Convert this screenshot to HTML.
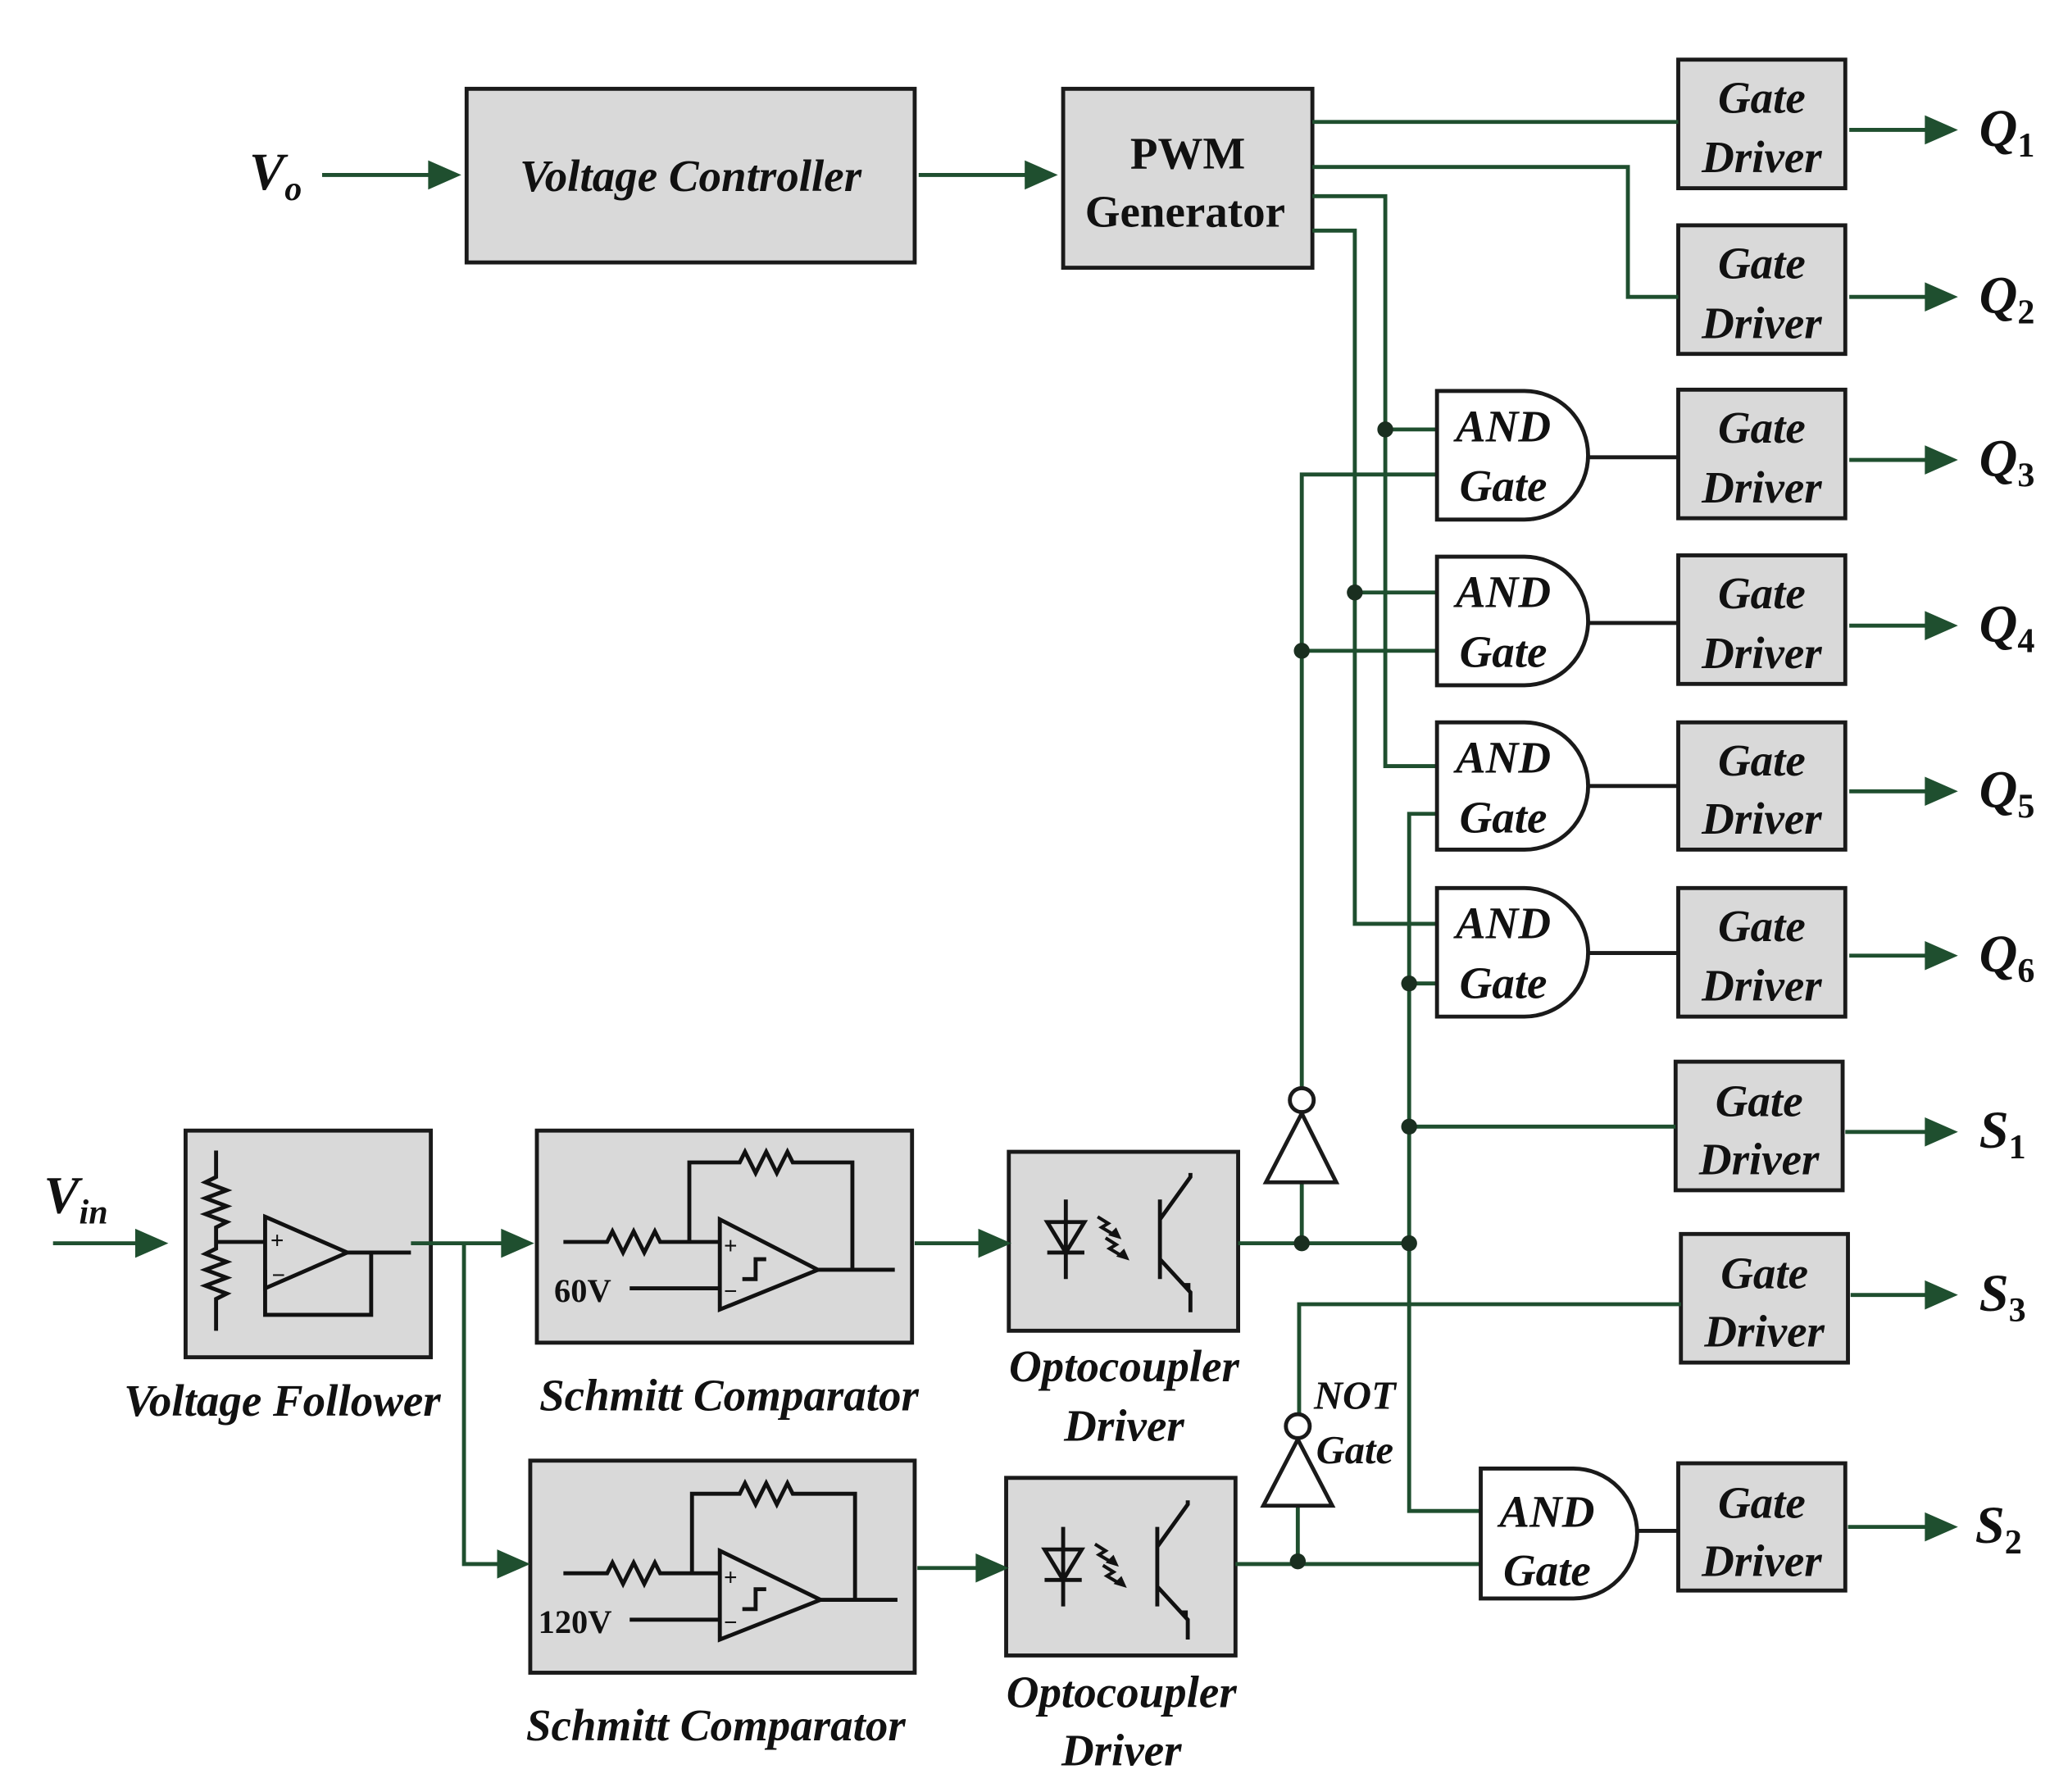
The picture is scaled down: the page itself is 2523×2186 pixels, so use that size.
<!DOCTYPE html>
<html><head><meta charset="utf-8"><style>
html,body{margin:0;padding:0;background:#fff}
svg{display:block}
text{font-family:"Liberation Serif",serif;font-weight:bold;font-style:italic;fill:#111}
text.up{font-style:normal}
</style></head><body>
<svg width="2523" height="2186" viewBox="0 0 1560 1352" preserveAspectRatio="none" xmlns="http://www.w3.org/2000/svg">
<g fill="#d9d9d9" stroke="#1a1a1a" stroke-width="3">
<rect x="352" y="67" width="338" height="131"/>
<rect x="802" y="67" width="188" height="135"/>
<rect x="1266" y="45" width="126" height="97"/>
<rect x="1266" y="170" width="126" height="97"/>
<rect x="1266" y="294" width="126" height="97"/>
<rect x="1266" y="419" width="126" height="97"/>
<rect x="1266" y="545" width="126" height="96"/>
<rect x="1266" y="670" width="126" height="97"/>
<rect x="1264" y="801" width="126" height="97"/>
<rect x="1268" y="931" width="126" height="97"/>
<rect x="1266" y="1104" width="126" height="96"/>
<rect x="140" y="853" width="185" height="171"/>
<rect x="405" y="853" width="283" height="160"/>
<rect x="400" y="1102" width="290" height="160"/>
<rect x="761" y="869" width="173" height="135"/>
<rect x="759" y="1115" width="173" height="134"/>
</g>
<g fill="none" stroke="#1f4f2f" stroke-width="3">
<path d="M243 132H335M693 132H785"/>
<path d="M990 92H1266M990 126H1228V224H1266M990 148H1045V578H1084M990 174H1022V697H1084"/>
<path d="M1045 324H1084M982 830V358H1084M1022 447H1084M982 491H1084"/>
<path d="M1084 614H1063V1140H1117M1063 742H1084M1063 850H1264"/>
<path d="M934 938H1063M982 938V892"/>
<path d="M1268 984H980V1066M979 1136V1180M932 1180H1120"/>
<path d="M40 938H115M310 938H390M350 938V1180H388M690 938H750M692 1183H748"/>
<path d="M1395 98H1465M1395 224H1465M1395 347H1465M1395 472H1465M1395 597H1465M1395 721H1465M1392 854H1465M1396 977H1465M1394 1152H1465"/>
</g>
<g fill="#1f4f2f">
<polygon points="348,132 323,121 323,143"/>
<polygon points="798,132 773,121 773,143"/>
<polygon points="127,938 102,927 102,949"/>
<polygon points="403,938 378,927 378,949"/>
<polygon points="400,1180 375,1169 375,1191"/>
<polygon points="763,938 738,927 738,949"/>
<polygon points="761,1183 736,1172 736,1194"/>
<polygon points="1477,98 1452,87 1452,109"/>
<polygon points="1477,224 1452,213 1452,235"/>
<polygon points="1477,347 1452,336 1452,358"/>
<polygon points="1477,472 1452,461 1452,483"/>
<polygon points="1477,597 1452,586 1452,608"/>
<polygon points="1477,721 1452,710 1452,732"/>
<polygon points="1477,854 1452,843 1452,865"/>
<polygon points="1477,977 1452,966 1452,988"/>
<polygon points="1477,1152 1452,1141 1452,1163"/>
</g>
<g fill="#1a2f20">
<circle cx="1045" cy="324" r="6"/><circle cx="1022" cy="447" r="6"/><circle cx="982" cy="491" r="6"/>
<circle cx="1063" cy="742" r="6"/><circle cx="1063" cy="850" r="6"/><circle cx="982" cy="938" r="6"/>
<circle cx="1063" cy="938" r="6"/><circle cx="979" cy="1178" r="6"/>
</g>
<g fill="#fff" stroke="#1a1a1a" stroke-width="3">
<path d="M1084 295H1150A48 48.5 0 0 1 1150 392H1084Z"/>
<path d="M1084 420H1150A48 48.5 0 0 1 1150 517H1084Z"/>
<path d="M1084 545H1150A48 48 0 0 1 1150 641H1084Z"/>
<path d="M1084 670H1150A48 48.5 0 0 1 1150 767H1084Z"/>
<path d="M1117 1108H1187A48 49 0 0 1 1187 1206H1117Z"/>
<path d="M1198 345H1266M1198 470H1266M1198 593H1266M1198 719H1266M1235 1155H1266"/>
<path d="M955 892H1008L982 840Z"/><circle cx="982" cy="830" r="9"/>
<path d="M953 1136H1005L979 1086Z"/><circle cx="979" cy="1076" r="9"/>
</g>
<g fill="none" stroke="#111" stroke-width="3">
<path d="M163 868V888l-8 4 16 6-16 6 16 6-16 6 16 6-8 4V937h38M163 937V942l-8 4 16 6-16 6 16 6-16 6 16 6-8 4V1004"/>
<path d="M200 918L262 945L200 972Z"/>
<path d="M262 945H310M280 945V992H200V958"/>
<path d="M425 937H458l4-8 8 16 8-16 8 16 8-16 4 8H543M520 937V877H558l4-8 8 16 8-16 8 16 8-16 4 8H643V958"/>
<path d="M543 920L617 958L543 988Z"/><path d="M617 958H675M475 972H543"/>
<path d="M560 965H570V950H578"/>
<path d="M425 1187H458l4-8 8 16 8-16 8 16 8-16 4 8H543M522 1187V1127H558l4-8 8 16 8-16 8 16 8-16 4 8H645V1207"/>
<path d="M543 1170L619 1207L543 1237Z"/><path d="M619 1207H677M475 1222H543"/>
<path d="M560 1214H570V1199H578"/>
<path d="M804 905V965M790 922H818L804 945Z M790 945H818"/>
<path d="M875 905V965M875 920L898 888V885M875 950L898 975V990"/>
<path d="M802 1152V1212M788 1169H816L802 1192Z M788 1192H816"/>
<path d="M873 1152V1212M873 1167L896 1135V1132M873 1197L896 1222V1237"/>
</g>
<g fill="none" stroke="#111" stroke-width="2.5">
<path d="M828 918l8 5-5 3 10 6M834 934l8 5-5 3 10 6"/>
<path d="M826 1165l8 5-5 3 10 6M832 1181l8 5-5 3 10 6"/>
</g>
<g fill="#111">
<polygon points="846,935 836,932 842,926"/><polygon points="852,951 842,948 848,942"/>
<polygon points="844,1182 834,1179 840,1173"/><polygon points="850,1198 840,1195 846,1189"/>
<polygon points="898,968 890,968 898,976" /><polygon points="896,1215 888,1215 896,1223"/>
</g>
<g font-size="18">
<text class="up" x="204" y="942">+</text><text class="up" x="205" y="968">−</text>
<text class="up" x="546" y="946">+</text><text class="up" x="546" y="980">−</text>
<text class="up" x="546" y="1196">+</text><text class="up" x="546" y="1230">−</text>
</g>
<g font-size="34" text-anchor="middle">
<text x="521" y="144">Voltage Controller</text>
<text x="1329" y="85">Gate</text><text x="1329" y="130">Driver</text>
<text x="1329" y="210">Gate</text><text x="1329" y="255">Driver</text>
<text x="1329" y="334">Gate</text><text x="1329" y="379">Driver</text>
<text x="1329" y="459">Gate</text><text x="1329" y="504">Driver</text>
<text x="1329" y="585">Gate</text><text x="1329" y="629">Driver</text>
<text x="1329" y="710">Gate</text><text x="1329" y="755">Driver</text>
<text x="1327" y="842">Gate</text><text x="1327" y="886">Driver</text>
<text x="1331" y="972">Gate</text><text x="1331" y="1016">Driver</text>
<text x="1329" y="1145">Gate</text><text x="1329" y="1189">Driver</text>
<text x="1134" y="333">AND</text><text x="1134" y="378">Gate</text>
<text x="1134" y="458">AND</text><text x="1134" y="503">Gate</text>
<text x="1134" y="583">AND</text><text x="1134" y="628">Gate</text>
<text x="1134" y="708">AND</text><text x="1134" y="753">Gate</text>
<text x="1167" y="1152">AND</text><text x="1167" y="1196">Gate</text>
<text x="213" y="1068">Voltage Follower</text>
<text x="550" y="1064">Schmitt Comparator</text>
<text x="540" y="1313">Schmitt Comparator</text>
<text x="848" y="1042">Optocoupler</text><text x="848" y="1087">Driver</text>
<text x="846" y="1288">Optocoupler</text><text x="846" y="1332">Driver</text>
<text class="up" x="896" y="127">PWM</text><text class="up" x="894" y="171">Generator</text>
</g>
<g font-size="30" text-anchor="middle"><text x="1022" y="1063">NOT</text><text x="1022" y="1104">Gate</text></g>
<g font-size="25"><text class="up" x="418" y="982">60V</text><text class="up" x="406" y="1232">120V</text></g>
<g font-size="40">
<text x="188" y="143">V<tspan font-size="26" dy="8">o</tspan></text>
<text x="33" y="915">V<tspan font-size="26" dy="8">in</tspan></text>
<text x="1493" y="110">Q<tspan font-size="26" dy="8" style="font-style:normal">1</tspan></text>
<text x="1493" y="236">Q<tspan font-size="26" dy="8" style="font-style:normal">2</tspan></text>
<text x="1493" y="359">Q<tspan font-size="26" dy="8" style="font-style:normal">3</tspan></text>
<text x="1493" y="484">Q<tspan font-size="26" dy="8" style="font-style:normal">4</tspan></text>
<text x="1493" y="609">Q<tspan font-size="26" dy="8" style="font-style:normal">5</tspan></text>
<text x="1493" y="733">Q<tspan font-size="26" dy="8" style="font-style:normal">6</tspan></text>
<text x="1493" y="866">S<tspan font-size="26" dy="8" style="font-style:normal">1</tspan></text>
<text x="1493" y="989">S<tspan font-size="26" dy="8" style="font-style:normal">3</tspan></text>
<text x="1490" y="1164">S<tspan font-size="26" dy="8" style="font-style:normal">2</tspan></text>
</g>
</svg>
</body></html>
